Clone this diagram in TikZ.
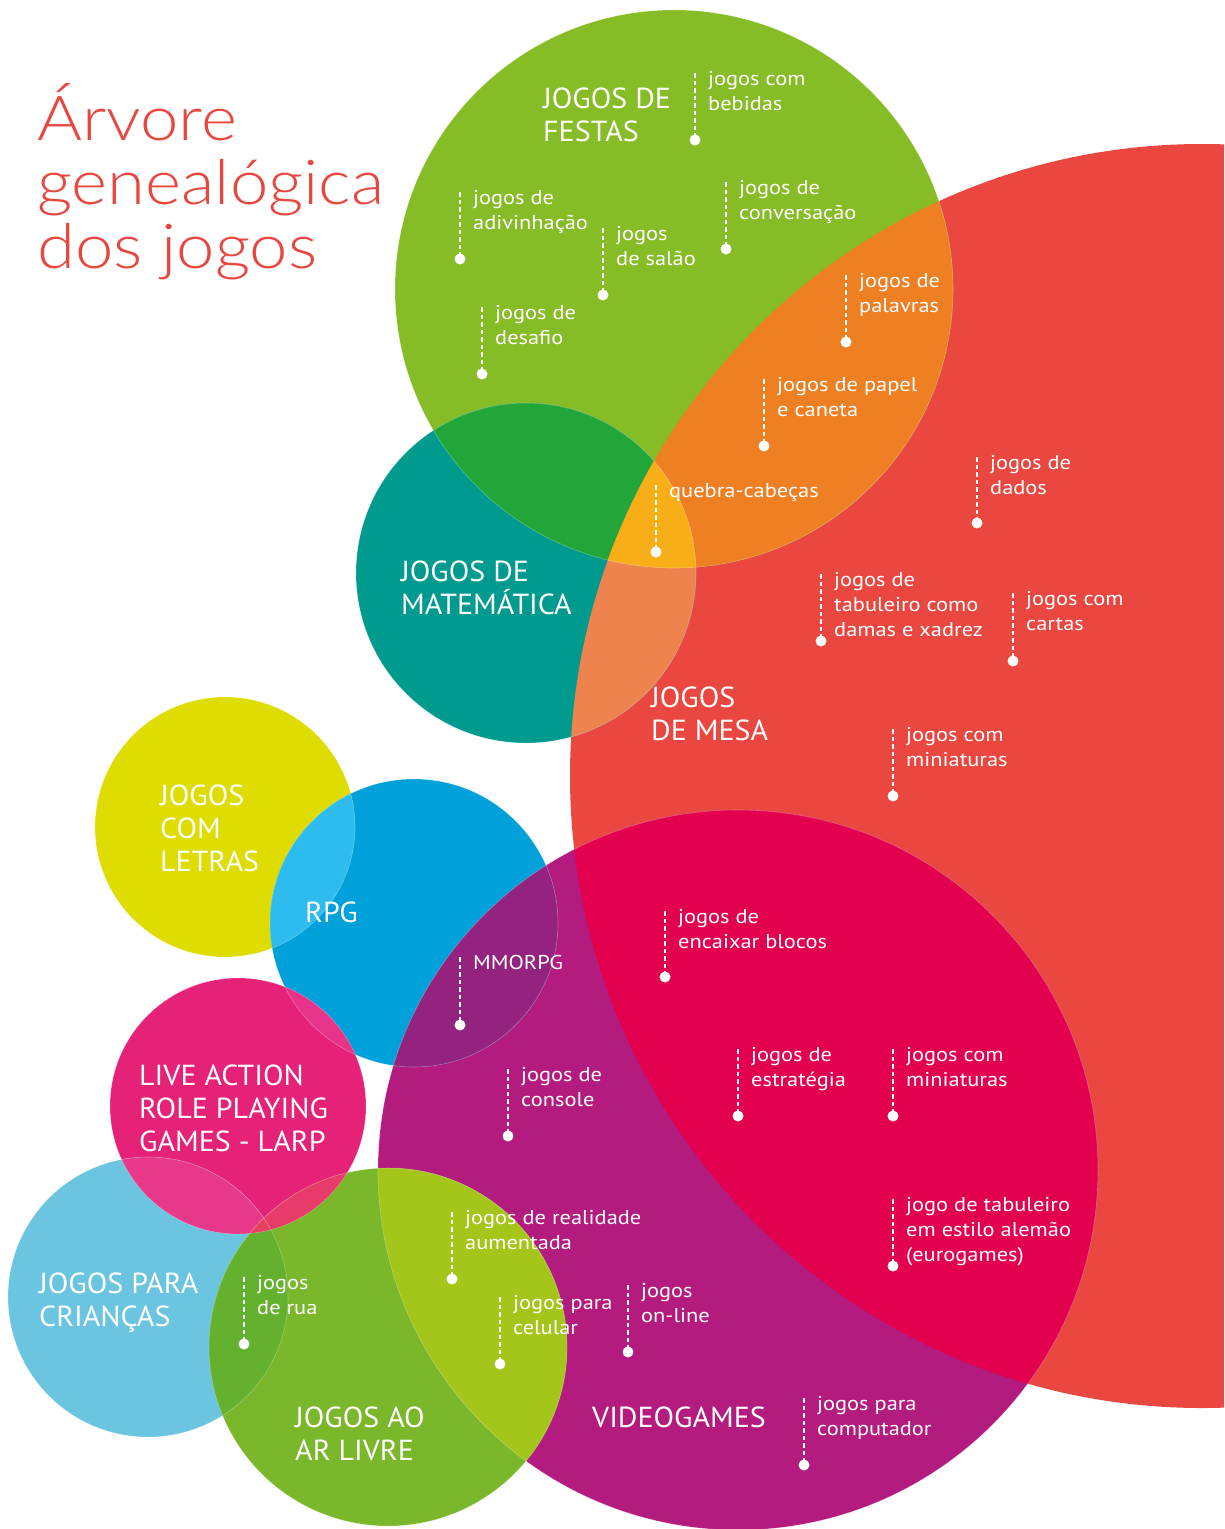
\documentclass[tikz,border=0pt]{standalone}
\usepackage{fontspec}
\setmainfont{PT Sans}
\newfontfamily\lblfont{PT Sans}[FakeStretch=1.12]
\newfontfamily\bigfont{PT Sans}[FakeStretch=1.035]
\IfFontExistsTF{Lato Light}
  {\newfontfamily\titlefont{Lato Light}[FakeStretch=1.11]}
  {\newfontfamily\titlefont{Lato}[FakeStretch=1.11]}
\definecolor{cF}{HTML}{86BC25}
\definecolor{cT}{HTML}{009A8E}
\definecolor{cR}{HTML}{E94740}
\definecolor{cFT}{HTML}{22A639}
\definecolor{cFR}{HTML}{EE7F22}
\definecolor{cTR}{HTML}{EF834E}
\definecolor{cFTR}{HTML}{F8AE17}
\definecolor{cY}{HTML}{DEDC00}
\definecolor{cB}{HTML}{00A1DA}
\definecolor{cYB}{HTML}{2EBBEE}
\definecolor{cP}{HTML}{B31B7F}
\definecolor{cBP}{HTML}{93237F}
\definecolor{cPR}{HTML}{E3004F}
\definecolor{cL}{HTML}{E62278}
\definecolor{cBL}{HTML}{E8338A}
\definecolor{cC}{HTML}{6CC5E0}
\definecolor{cLC}{HTML}{E7388A}
\definecolor{cG}{HTML}{7AB72B}
\definecolor{cCG}{HTML}{63B12F}
\definecolor{cLG}{HTML}{E73B6A}
\definecolor{cLCG}{HTML}{E6405E}
\definecolor{cGP}{HTML}{A4C519}
\definecolor{cTitle}{HTML}{E8473F}
\tikzset{
  leadline/.style={white, line width=2.6pt, dash pattern=on 4.5pt off 3pt},
  dotnode/.style={circle, fill=white, inner sep=0pt, minimum size=11pt},
  lbl/.style={text=white, anchor=north west, inner sep=0pt, align=left, font=\lblfont\fontsize{20}{25}\selectfont},
  big/.style={text=white, anchor=north west, inner sep=0pt, align=left, font=\bigfont\fontsize{29}{33}\selectfont},
  titletext/.style={text=cTitle, anchor=base west, inner sep=0pt, font=\titlefont\fontsize{62}{64}\selectfont},
  rim/.style={white, opacity=0.3, line width=0.6pt}
}
\newcommand\leaderlabel[5]{%
  \coordinate (#1t) at (#2,#3);
  \node[dotnode] (#1d) at (#2,#4) {};
  \draw[leadline] (#1t) -- (#1d.center);
  \node[lbl] (#1) at (#2+13,#3-2) {#5};}
\begin{document}
\begin{tikzpicture}[x=1pt,y=-1pt]
\useasboundingbox (0,0) rectangle (1224,1529);
\clip (0,0) rectangle (1224,1529);
% circle centres
\coordinate (F) at (674,289);
\coordinate (R) at (1202,776);
\coordinate (T) at (526,573);
\coordinate (P) at (738,1170);
\coordinate (Y) at (225,827);
\coordinate (B) at (414,923);
\coordinate (L) at (238,1106);
\coordinate (C) at (148,1297);
\coordinate (G) at (388,1347);
% base fills
\fill[cR] (R) circle[radius=632];
\fill[cF] (F) circle[radius=279];
\fill[cT] (T) circle[radius=170];
\fill[cP] (P) circle[radius=360];
\fill[cY] (Y) circle[radius=130];
\fill[cB] (B) circle[radius=144];
\fill[cL] (L) circle[radius=128];
\fill[cC] (C) circle[radius=140];
\fill[cG] (G) circle[radius=179];
% pairwise overlaps
\begin{scope}\clip (F) circle[radius=279]; \fill[cFT] (T) circle[radius=170];\end{scope}
\begin{scope}\clip (F) circle[radius=279]; \fill[cFR] (R) circle[radius=632];\end{scope}
\begin{scope}\clip (T) circle[radius=170]; \fill[cTR] (R) circle[radius=632];\end{scope}
\begin{scope}\clip (F) circle[radius=279]; \clip (T) circle[radius=170]; \fill[cFTR] (R) circle[radius=632];\end{scope}
\begin{scope}\clip (Y) circle[radius=130]; \fill[cYB] (B) circle[radius=144];\end{scope}
\begin{scope}\clip (B) circle[radius=144]; \fill[cBP] (P) circle[radius=360];\end{scope}
\begin{scope}\clip (P) circle[radius=360]; \fill[cPR] (R) circle[radius=632];\end{scope}
\begin{scope}\clip (B) circle[radius=144]; \fill[cBL] (L) circle[radius=128];\end{scope}
\begin{scope}\clip (L) circle[radius=128]; \fill[cLC] (C) circle[radius=140];\end{scope}
\begin{scope}\clip (L) circle[radius=128]; \fill[cLG] (G) circle[radius=179];\end{scope}
\begin{scope}\clip (C) circle[radius=140]; \fill[cCG] (G) circle[radius=179];\end{scope}
\begin{scope}\clip (L) circle[radius=128]; \clip (C) circle[radius=140]; \fill[cLCG] (G) circle[radius=179];\end{scope}
\begin{scope}\clip (G) circle[radius=179]; \fill[cGP] (P) circle[radius=360];\end{scope}
% faint rims
\foreach \c/\r in {F/279,T/170,P/360,Y/130,B/144,L/128,C/140,G/179}
  \draw[rim] (\c) circle[radius=\r];
% title
\node[titletext] (title1) at (37,140) {Árvore};
\node[titletext] (title2) at (37,204) {genealógica};
\node[titletext] (title3) at (37,268) {dos jogos};
% category labels
\node[big] (festas) at (543,88) {JOGOS DE\\FESTAS};
\node[big] (matematica) at (401,561) {JOGOS DE\\MATEMÁTICA};
\node[big] (mesa) at (651,687) {JOGOS\\DE MESA};
\node[big] (letras) at (160,785) {JOGOS\\COM\\LETRAS};
\node[big] (rpg) at (305,902) {RPG};
\node[big] (larp) at (139,1065) {LIVE ACTION\\ROLE PLAYING\\GAMES - LARP};
\node[big] (criancas) at (39,1273) {JOGOS PARA\\CRIANÇAS};
\node[big] (arlivre) at (295,1407) {JOGOS AO\\AR LIVRE};
\node[big] (videogames) at (592,1407) {VIDEOGAMES};
% sub-category labels with leaders
\leaderlabel{bebidas}{695}{73}{140}{jogos com\\bebidas}
\leaderlabel{adivinhacao}{460}{192}{259}{jogos de\\adivinhação}
\leaderlabel{salao}{603}{228}{295}{jogos\\de salão}
\leaderlabel{conversacao}{726}{182}{249}{jogos de\\conversação}
\leaderlabel{desafio}{482}{307}{374}{jogos de\\desafio}
\leaderlabel{palavras}{846}{275}{342}{jogos de\\palavras}
\leaderlabel{papel}{764}{379}{446}{jogos de papel\\e caneta}
\leaderlabel{quebra}{656}{485}{552}{quebra-cabeças}
\leaderlabel{dados}{977}{457}{523}{jogos de\\dados}
\leaderlabel{tabuleiro}{821}{574}{641}{jogos de\\tabuleiro como\\damas e xadrez}
\leaderlabel{cartas}{1013}{593}{661}{jogos com\\cartas}
\leaderlabel{miniA}{893}{729}{796}{jogos com\\miniaturas}
\leaderlabel{blocos}{665}{911}{977}{jogos de\\encaixar blocos}
\leaderlabel{mmorpg}{460}{957}{1025}{MMORPG}
\leaderlabel{console}{508}{1069}{1136}{jogos de\\console}
\leaderlabel{estrategia}{738}{1049}{1116}{jogos de\\estratégia}
\leaderlabel{miniB}{893}{1049}{1116}{jogos com\\miniaturas}
\leaderlabel{alemao}{893}{1199}{1266}{jogo de tabuleiro\\em estilo alemão\\(eurogames)}
\leaderlabel{realidade}{452}{1212}{1279}{jogos de realidade\\aumentada}
\leaderlabel{celular}{500}{1297}{1364}{jogos para\\celular}
\leaderlabel{online}{628}{1285}{1352}{jogos\\on-line}
\leaderlabel{computador}{804}{1398}{1465}{jogos para\\computador}
\leaderlabel{rua}{244}{1277}{1344}{jogos\\de rua}
\end{tikzpicture}
\end{document}
